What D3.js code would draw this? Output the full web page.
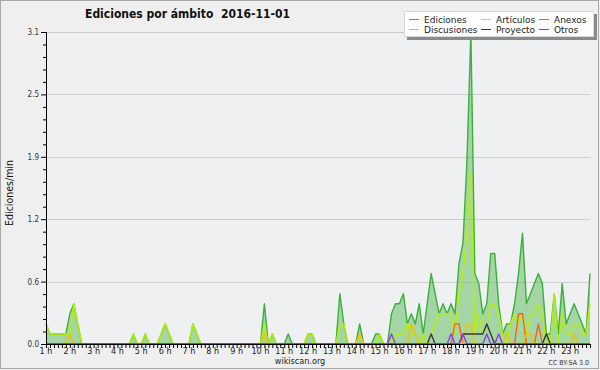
<!DOCTYPE html>
<html>
<head>
<meta charset="utf-8">
<script src="https://cdnjs.cloudflare.com/ajax/libs/d3/7.8.5/d3.min.js"></script>
<style>
  body { margin: 0; background: #efefef; }
  svg text { font-family: "DejaVu Sans Condensed", "DejaVu Sans", sans-serif; font-stretch: condensed; }
  svg text.legend { font-family: "DejaVu Sans", sans-serif; font-stretch: normal; }
</style>
</head>
<body>
<div class="container"></div>
<script>
// edits per minute, one value per 10 minutes, starting at 1 h
var ediciones = [
  0.2,0.1,0.1,0.1,0.1,0.1,0.3,0.4,0.2,0,0,0,
  0,0,0,0,0,0,0,0,0,0,0.1,0,
  0,0.1,0,0,0,0.1,0.2,0.1,0,0,0,0,
  0,0.2,0.1,0,0,0,0,0,0,0,0,0,
  0,0,0,0,0,0,0,0.4,0,0.1,0,0,
  0,0.1,0,0,0,0,0.1,0.1,0,0,0,0,
  0,0,0.5,0.2,0,0,0,0.2,0,0,0,0.1,
  0.1,0,0,0.3,0.4,0.4,0.5,0.2,0.3,0.2,0.4,0.1,
  0.4,0.7,0.5,0.3,0.4,0.3,0.4,0.3,0.8,1.0,1.8,3.1,
  0.7,0.6,0.3,0.4,0.9,0.9,0.4,0.1,0.2,0.2,0.4,0.7,
  1.1,0.4,0.5,0.6,0.7,0.6,0.1,0.1,0.5,0.1,0.6,0.2,
  0.3,0.4,0.3,0.2,0.1,0.7
];
var articulos = [
  0.2,0.1,0.1,0.1,0.1,0.1,0.1,0.4,0.2,0,0,0,
  0,0,0,0,0,0,0,0,0,0,0.1,0,
  0,0.1,0,0,0,0.1,0.2,0.1,0,0,0,0,
  0,0.2,0.1,0,0,0,0,0,0,0,0,0,
  0,0,0,0,0,0,0,0.2,0,0.1,0,0,
  0,0,0,0,0,0,0.1,0.1,0,0,0,0,
  0,0,0.2,0.2,0,0,0,0.1,0,0,0,0,
  0.1,0,0,0,0.1,0.1,0.1,0.2,0.1,0.1,0,0.1,
  0,0.1,0.2,0.3,0.3,0.3,0.3,0.1,0.5,0.7,1.1,1.7,
  0.1,0.3,0.1,0.2,0.4,0.4,0.3,0.1,0,0.2,0.3,0.2,
  0.3,0.1,0.3,0.3,0.4,0.3,0,0,0.5,0,0.3,0.1,
  0.1,0.2,0.2,0.1,0.1,0.4
];
var anexos = [
  0,0,0,0,0,0,0,0,0,0,0,0,
  0,0,0,0,0,0,0,0,0,0,0,0,
  0,0,0,0,0,0,0,0,0,0,0,0,
  0,0,0,0,0,0,0,0,0,0,0,0,
  0,0,0,0,0,0,0,0,0,0,0,0,
  0,0,0,0,0,0,0,0,0,0,0,0,
  0,0,0,0,0,0,0,0,0,0,0,0,
  0,0,0,0,0,0,0,0,0,0,0,0,
  0,0,0,0,0,0,0,0.2,0.2,0,0,0,
  0,0,0,0,0,0,0,0,0,0,0,0.3,
  0.3,0,0,0,0.2,0,0,0,0,0,0,0,
  0,0,0,0,0,0
];
var discusiones = [
  0,0,0,0,0,0,0.1,0,0,0,0,0,
  0,0,0,0,0,0,0,0,0,0,0,0,
  0,0,0,0,0,0,0,0,0,0,0,0,
  0,0,0,0,0,0,0,0,0,0,0,0,
  0,0,0,0,0,0,0,0.1,0,0,0,0,
  0,0,0,0,0,0,0,0,0,0,0,0,
  0,0,0,0,0,0,0,0.1,0,0,0,0,
  0,0,0,0,0,0,0,0,0.2,0.1,0,0,
  0,0,0,0,0,0,0,0,0,0,0.2,0.2,
  0,0,0,0,0,0,0,0,0.1,0,0,0,
  0,0.1,0.1,0,0,0,0,0,0,0,0,0,
  0,0.1,0,0,0,0
];
var proyecto = [
  0,0,0,0,0,0,0,0,0,0,0,0,
  0,0,0,0,0,0,0,0,0,0,0,0,
  0,0,0,0,0,0,0,0,0,0,0,0,
  0,0,0,0,0,0,0,0,0,0,0,0,
  0,0,0,0,0,0,0,0,0,0,0,0,
  0,0,0,0,0,0,0,0,0,0,0,0,
  0,0,0,0,0,0,0,0,0,0,0,0,
  0,0,0,0,0,0,0,0,0,0,0,0,
  0,0.1,0,0,0,0,0,0,0,0.1,0.1,0.1,
  0.1,0.1,0.1,0.2,0.1,0,0,0,0,0,0,0,
  0,0,0,0,0,0,0.1,0,0,0,0,0,
  0,0,0,0,0,0
];
var otros = [
  0,0,0,0,0,0,0,0,0,0,0,0,
  0,0,0,0,0,0,0,0,0,0,0,0,
  0,0,0,0,0,0,0,0,0,0,0,0,
  0,0,0,0,0,0,0,0,0,0,0,0,
  0,0,0,0,0,0,0,0,0,0,0,0,
  0,0,0,0,0,0,0,0,0,0,0,0,
  0,0,0,0,0,0,0,0,0,0,0,0,
  0,0,0,0.1,0,0,0,0,0,0,0,0,
  0,0,0,0,0,0,0.1,0,0,0.1,0,0,
  0,0,0,0.1,0,0,0.1,0,0,0,0,0,
  0,0,0,0,0,0,0,0,0,0,0,0,
  0,0,0,0,0,0
];

var hourLabels = ["1 h","2 h","3 h","4 h","5 h","6 h","7 h","8 h","9 h","10 h","11 h","12 h",
                  "13 h","14 h","15 h","16 h","17 h","18 h","19 h","20 h","21 h","22 h","23 h"];
var yTicks = [0, 0.62, 1.24, 1.86, 2.48, 3.1];
var yMinor = [0.124,0.248,0.372,0.496,0.744,0.868,0.992,1.116,1.364,1.488,1.612,1.736,
              1.984,2.108,2.232,2.356,2.604,2.728,2.852,2.976];

var series = [
  {name: "Ediciones",   values: ediciones,   color: "#3cb03c"},
  {name: "Artículos",   values: articulos,   color: "#b8f000"},
  {name: "Anexos",      values: anexos,      color: "#f8621a"},
  {name: "Discusiones", values: discusiones, color: "#f5c000"},
  {name: "Proyecto",    values: proyecto,    color: "#383838"},
  {name: "Otros",       values: otros,       color: "#8a3cf0"}
];

var width = 600, height = 370;
var plot = {left: 46, right: 590, top: 32, bottom: 344};
var n = ediciones.length;

var svg = d3.select("div.container").append("svg")
    .attr("width", width)
    .attr("height", height);

svg.append("rect")
    .attr("x", 0.5).attr("y", 0.5)
    .attr("width", width - 2).attr("height", height - 2)
    .attr("fill", "#efefef")
    .attr("stroke", "#a8a8a8");

svg.append("rect")
    .attr("x", plot.left).attr("y", plot.top)
    .attr("width", plot.right - plot.left).attr("height", plot.bottom - plot.top)
    .attr("fill", "#eff0f2");

// sample index -> pixel (10 minute steps from 1 h)
var x = d3.scaleLinear()
    .domain([0, n - 1])
    .range([plot.left, plot.right]);

var y = d3.scaleLinear()
    .domain([0, 3.1])
    .range([plot.bottom, plot.top]);

// grid
svg.append("g").selectAll("line")
    .data(yTicks.slice(1))
    .enter().append("line")
    .attr("x1", plot.left).attr("x2", plot.right)
    .attr("y1", function(d) { return Math.round(y(d)) + 0.5; })
    .attr("y2", function(d) { return Math.round(y(d)) + 0.5; })
    .attr("stroke", "#cfcfcf");

// total area
var area = d3.area()
    .x(function(d, i) { return x(i); })
    .y0(y(0))
    .y1(function(d) { return y(d); });

svg.append("path")
    .datum(ediciones)
    .attr("d", area)
    .attr("fill", "#3cb03c")
    .attr("fill-opacity", 0.42);

var line = d3.line()
    .x(function(d, i) { return x(i); })
    .y(function(d) { return y(d); });

series.forEach(function(s) {
    svg.append("path")
        .datum(s.values)
        .attr("d", line)
        .attr("fill", "none")
        .attr("stroke", s.color)
        .attr("stroke-width", 1.4)
        .attr("stroke-linejoin", "round");
});

// axes
var xAxis = d3.axisBottom(x)
    .tickValues(d3.range(0, n, 1))
    .tickSize(4)
    .tickFormat("");
svg.append("g")
    .attr("transform", "translate(0," + plot.bottom + ")")
    .call(xAxis)
    .call(function(g) {
        g.select(".domain").attr("stroke", "#000").attr("d", "M" + plot.left + ",0.5H" + plot.right);
        g.selectAll(".tick line").attr("stroke", "#000");
    });

svg.append("g").selectAll("text")
    .data(hourLabels)
    .enter().append("text")
    .attr("x", function(d, k) { return x(k * 6); })
    .attr("y", 354)
    .attr("text-anchor", "middle")
    .attr("font-size", 9)
    .attr("fill", "#222")
    .text(function(d) { return d; });

var yAxis = d3.axisLeft(y)
    .tickValues(yTicks)
    .tickSize(5)
    .tickPadding(2)
    .tickFormat(function(d) { return d.toFixed(1); });
svg.append("g")
    .attr("transform", "translate(" + plot.left + ",0)")
    .call(yAxis)
    .call(function(g) {
        g.select(".domain").attr("stroke", "#000").attr("d", "M0.5," + plot.top + "V" + plot.bottom);
        g.selectAll(".tick line").attr("stroke", "#000");
        g.selectAll(".tick text").attr("font-size", 8).attr("fill", "#333")
            .attr("font-family", null);
    });

svg.append("g")
    .attr("transform", "translate(" + plot.left + ",0)")
    .call(d3.axisLeft(y).tickValues(yMinor).tickSize(3).tickFormat(""))
    .call(function(g) {
        g.select(".domain").remove();
        g.selectAll(".tick line").attr("stroke", "#000");
    });

// titles
svg.append("text")
    .attr("x", 85).attr("y", 18)
    .attr("font-size", 13)
    .attr("font-weight", "bold")
    .attr("fill", "#111")
    .attr("textLength", 205)
    .attr("lengthAdjust", "spacingAndGlyphs")
    .style("white-space", "pre")
    .text("Ediciones por ámbito  2016-11-01");

svg.append("text")
    .attr("transform", "translate(13,193) rotate(-90)")
    .attr("text-anchor", "middle")
    .attr("font-size", 10.5)
    .attr("fill", "#111")
    .text("Ediciones/min");

svg.append("text")
    .attr("x", 300).attr("y", 364)
    .attr("text-anchor", "middle")
    .attr("font-size", 9)
    .attr("fill", "#222")
    .text("wikiscan.org");

svg.append("text")
    .attr("x", 589).attr("y", 365)
    .attr("text-anchor", "end")
    .attr("font-size", 7)
    .attr("fill", "#333")
    .text("CC BY-SA 3.0");

// legend
var legend = svg.append("g");
legend.append("rect")
    .attr("x", 407).attr("y", 14).attr("width", 190).attr("height", 26)
    .attr("fill", "#8a8a8a");
legend.append("rect")
    .attr("x", 404.5).attr("y", 11.5).attr("width", 189).attr("height", 25)
    .attr("fill", "#fff").attr("stroke", "#d8d8d8");

var legendCols = [409, 481, 539];
var legendRows = [19, 29];
series.forEach(function(s, j) {
    var cx = legendCols[j % 3], cy = legendRows[Math.floor(j / 3)];
    legend.append("line")
        .attr("x1", cx).attr("x2", cx + 10)
        .attr("y1", cy + 0.5).attr("y2", cy + 0.5)
        .attr("stroke", s.color).attr("stroke-width", 1);
    legend.append("text")
        .attr("class", "legend")
        .attr("x", cx + 15).attr("y", cy + 3.5)
        .attr("font-size", 9)
        .attr("fill", "#222")
        .text(s.name);
});
</script>
</body>
</html>
